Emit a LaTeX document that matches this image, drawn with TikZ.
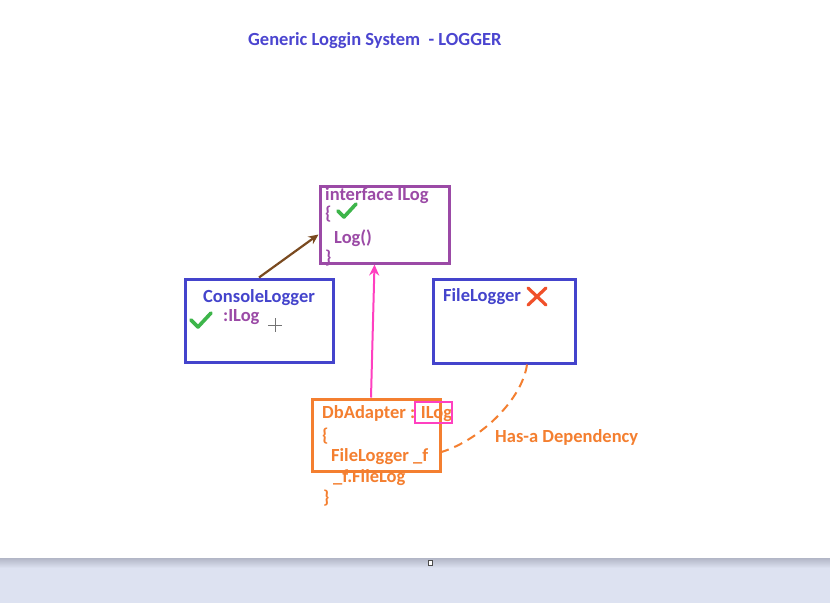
\documentclass[tikz,border=0pt]{standalone}
\usepackage{fontspec}
\setmainfont{Carlito}
\usetikzlibrary{arrows.meta}

\definecolor{titleblue}{HTML}{4B45D0}
\definecolor{boxblue}{HTML}{4444CC}
\definecolor{ilogpurple}{HTML}{9B4AA6}
\definecolor{dborange}{HTML}{F47F30}
\definecolor{checkgreen}{HTML}{3DB54A}
\definecolor{crossred}{HTML}{F0502A}
\definecolor{linkpink}{HTML}{FF40C0}
\definecolor{linkbrown}{HTML}{7A4A20}
\definecolor{barblue}{HTML}{DDE2F1}
\definecolor{bargrey}{HTML}{B2B6C6}

\tikzset{
  txt/.style={anchor=base west, inner sep=0pt, font=\fontsize{18.5}{22}\selectfont\bfseries},
  classbox/.style={draw, line width=3pt, minimum width=#1, inner sep=0pt},
  tick/.style={checkgreen, line width=3.6pt, line cap=round, line join=round},
}

\begin{document}
\begin{tikzpicture}[x=1pt, y=-1pt]
  \useasboundingbox (0,0) rectangle (830,603);
  \fill[white] (0,0) rectangle (830,603);

  % bottom bar of the window
  \fill[barblue] (0,560) rectangle (830,603);
  \shade[top color=bargrey, bottom color=barblue] (0,558) rectangle (830,568);
  \draw[black!70, fill=white, line width=0.8pt] (428,560) rectangle (432,565);

  % title
  \node[txt, titleblue] (title) at (248,45) {Generic Loggin System\ \ - LOGGER};

  % boxes
  \node[classbox=129pt, minimum height=77pt, ilogpurple] (ilog) at (384.5,224.5) {};
  \node[classbox=148pt, minimum height=83pt, boxblue] (console) at (259,320.5) {};
  \node[classbox=142pt, minimum height=84pt, boxblue] (file) at (504,321) {};
  \node[classbox=128pt, minimum height=72pt, dborange] (db) at (376,435) {};

  % interface ILog
  \node[txt, ilogpurple] (ilog1) at (325,200) {interface ILog};
  \node[txt, ilogpurple] (ilog2) at (325,219) {\{};
  \node[txt, ilogpurple] (ilog3) at (334,243) {Log()};
  \node[txt, ilogpurple] (ilog4) at (325,263) {\}};
  \draw[tick] (338,211) -- (344,217) -- (356,204);

  % ConsoleLogger
  \node[txt, boxblue] (console1) at (203,302) {ConsoleLogger};
  \node[txt, ilogpurple] (console2) at (223,321) {:ILog};
  \draw[tick] (191,320) -- (198,327) -- (211,313);
  \draw[black!55, line width=0.9pt] (268,325) -- (282,325) (275,318) -- (275,332);

  % FileLogger
  \node[txt, boxblue] (file1) at (443,301) {FileLogger};
  \draw[crossred, line width=3.2pt, line cap=round]
    (528,288) -- (546,305) (546,288) -- (528,305);

  % DbAdapter
  \node[txt, dborange] (db1) at (322,418) {DbAdapter : ILog};
  \node[txt, dborange] (db2) at (322,441) {\{};
  \node[txt, dborange] (db3) at (331,461) {FileLogger \_f};
  \node[txt, dborange] (db4) at (333,482) {\_f.FileLog};
  \node[txt, dborange] (db5) at (323,503) {\}};
  \draw[linkpink, line width=1.6pt] (415,402) rectangle (452,423);

  % links
  \draw[linkbrown, line width=2.2pt, -{Stealth[length=10pt, width=9pt]}]
    (console.north) -- ([yshift=-10pt]ilog.west);
  \draw[linkpink, line width=2pt, -{Stealth[length=11pt, width=10pt]}]
    ([xshift=-5pt]db.north) -- ([xshift=-10pt]ilog.south);
  \draw[dborange, line width=2pt, dash pattern=on 9pt off 6pt]
    ([xshift=23pt]file.south) .. controls (522,400) and (480,440) .. ([yshift=-17pt]db.east);
  \node[txt, dborange] (dep) at (495,442) {Has-a Dependency};
\end{tikzpicture}
\end{document}
